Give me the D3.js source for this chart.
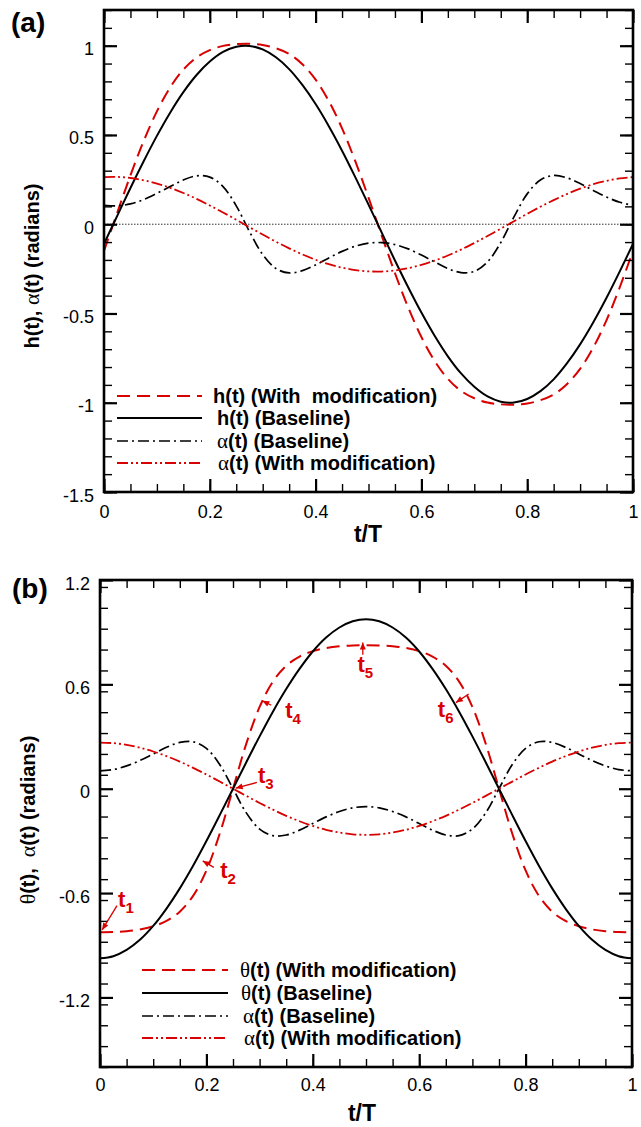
<!DOCTYPE html>
<html><head><meta charset="utf-8">
<script src="https://cdn.jsdelivr.net/npm/d3@7"></script>
<style>
body{margin:0;background:#fff}
svg{display:block}
text{font-family:"Liberation Sans",Arial,sans-serif;white-space:pre}
</style>
</head><body>
<svg id="c" width="641" height="1127"></svg>
<script>
// ---------- data (t/T grid and series values) ----------
const tGrid = [0,0.025,0.05,0.075,0.1,0.125,0.15,0.175,0.2,0.225,0.25,0.275,0.3,0.325,0.35,0.375,0.4,0.425,0.45,0.475,0.5,
  0.525,0.55,0.575,0.6,0.625,0.65,0.675,0.7,0.725,0.75,0.775,0.8,0.825,0.85,0.875,0.9,0.925,0.95,0.975,1];

// panel (a)
const hModA = [-0.149,0.064,0.274,0.466,0.632,0.766,0.866,0.934,0.975,0.999,1.009,1.011,1.004,0.986,0.954,0.896,0.810,0.690,0.537,0.353,0.149,
  -0.064,-0.274,-0.466,-0.632,-0.766,-0.866,-0.934,-0.975,-0.999,-1.009,-1.011,-1.004,-0.986,-0.954,-0.896,-0.810,-0.690,-0.537,-0.353,-0.149];
const hBaseA = [-0.110,0.047,0.203,0.353,0.495,0.625,0.740,0.836,0.911,0.965,0.994,0.999,0.979,0.935,0.869,0.780,0.673,0.549,0.412,0.264,0.110,
  -0.047,-0.203,-0.353,-0.495,-0.625,-0.740,-0.836,-0.911,-0.965,-0.994,-0.999,-0.979,-0.935,-0.869,-0.780,-0.673,-0.549,-0.412,-0.264,-0.110];
const alphaBaseA = [0.106,0.103,0.114,0.138,0.173,0.211,0.248,0.271,0.264,0.211,0.103,-0.041,-0.170,-0.248,-0.273,-0.260,-0.228,-0.189,-0.152,-0.123,-0.106,
  -0.103,-0.114,-0.138,-0.173,-0.211,-0.248,-0.271,-0.264,-0.211,-0.103,0.041,0.170,0.248,0.273,0.260,0.228,0.189,0.152,0.123,0.106];
const alphaModA = [0.264,0.265,0.259,0.246,0.228,0.204,0.175,0.142,0.105,0.066,0.025,-0.017,-0.058,-0.098,-0.135,-0.169,-0.199,-0.224,-0.243,-0.257,-0.264,
  -0.265,-0.259,-0.246,-0.228,-0.204,-0.175,-0.142,-0.105,-0.066,-0.025,0.017,0.058,0.098,0.135,0.169,0.199,0.224,0.243,0.257,0.264];

// panel (b)
const thetaModB = [-0.825,-0.824,-0.819,-0.809,-0.791,-0.760,-0.707,-0.616,-0.470,-0.259,0,0.259,0.470,0.616,0.707,0.760,0.791,0.809,0.819,0.824,0.825,
  0.824,0.819,0.809,0.791,0.760,0.707,0.616,0.470,0.259,0,-0.259,-0.470,-0.616,-0.707,-0.760,-0.791,-0.809,-0.819,-0.824,-0.825];
const thetaBaseB = [-0.975,-0.963,-0.927,-0.869,-0.789,-0.689,-0.573,-0.443,-0.301,-0.152,0,0.152,0.301,0.443,0.573,0.689,0.789,0.869,0.927,0.963,0.975,
  0.963,0.927,0.869,0.789,0.689,0.573,0.443,0.301,0.152,0,-0.152,-0.301,-0.443,-0.573,-0.689,-0.789,-0.869,-0.927,-0.963,-0.975];
const alphaBaseB = [0.103,0.110,0.131,0.162,0.200,0.238,0.266,0.270,0.232,0.139,0,-0.139,-0.232,-0.270,-0.266,-0.238,-0.200,-0.162,-0.131,-0.110,-0.103,
  -0.110,-0.131,-0.162,-0.200,-0.238,-0.266,-0.270,-0.232,-0.139,0,0.139,0.232,0.270,0.266,0.238,0.200,0.162,0.131,0.110,0.103];
const alphaModB = [0.265,0.262,0.252,0.236,0.214,0.187,0.156,0.120,0.082,0.041,0,-0.041,-0.082,-0.120,-0.156,-0.187,-0.214,-0.236,-0.252,-0.262,-0.265,
  -0.262,-0.252,-0.236,-0.214,-0.187,-0.156,-0.120,-0.082,-0.041,0,0.041,0.082,0.120,0.156,0.187,0.214,0.236,0.252,0.262,0.265];

// tick values
const xMajor = [0,0.2,0.4,0.6,0.8,1];
const xTickLabels = ["0","0.2","0.4","0.6","0.8","1"];
const yMajorA = [-1.5,-1,-0.5,0,0.5,1];
const yTickLabelsA = ["-1.5","-1","-0.5","0","0.5","1"];
const yMajorB = [-1.2,-0.6,0,0.6,1.2];
const yTickLabelsB = ["-1.2","-0.6","0","0.6","1.2"];

// legend labels
const legendA = [
  {pre:"h", mid:"(t) (With  modification)", greek:false},
  {pre:"h", mid:"(t) (Baseline)", greek:false},
  {pre:"α", mid:"(t) (Baseline)", greek:true},
  {pre:"α", mid:"(t) (With modification)", greek:true}
];
const legendB = [
  {pre:"θ", mid:"(t) (With modification)", greek:true},
  {pre:"θ", mid:"(t) (Baseline)", greek:true},
  {pre:"α", mid:"(t) (Baseline)", greek:true},
  {pre:"α", mid:"(t) (With modification)", greek:true}
];

// annotations of panel (b): arrow tail/tip and label in data coordinates
const annotB = [
  {sub:"1", lt:0.034, lv:-0.680, t0:0.032, v0:-0.672, t1:0.004, v1:-0.812},
  {sub:"2", lt:0.226, lv:-0.513, t0:0.214, v0:-0.452, t1:0.193, v1:-0.415},
  {sub:"3", lt:0.297, lv:0.030, t0:0.295, v0:0.036, t1:0.255, v1:0.003},
  {sub:"4", lt:0.348, lv:0.407, t0:0.322, v0:0.480, t1:0.305, v1:0.506},
  {sub:"5", lt:0.484, lv:0.672, t0:0.494, v0:0.770, t1:0.494, v1:0.840},
  {sub:"6", lt:0.635, lv:0.411, t0:0.693, v0:0.545, t1:0.669, v1:0.495}
];

// ---------- drawing ----------
const RED = "#d90000";
const svg = d3.select("#c");
const FONT = '"Liberation Sans", Arial, sans-serif';
const GREEK = '"Liberation Serif", "DejaVu Serif", serif';

const styles = {
  dashRed: {color: RED, dash: "13,7", w: 2},
  solid:   {color: "#000", dash: null, w: 2},
  dashDot: {color: "#000", dash: "11,4,2,4", w: 1.7},
  dashDotDot: {color: RED, dash: "11,3,2,3,2,3", w: 1.8}
};

function panel(cfg) {
  const x = d3.scaleLinear().domain([0,1]).range([cfg.left, cfg.right]);
  const y = d3.scaleLinear().domain(cfg.yDomain).range([cfg.bottom, cfg.top]);
  const g = svg.append("g");

  const clip = "clip" + cfg.id;
  svg.append("clipPath").attr("id", clip).append("rect")
    .attr("x", cfg.left).attr("y", cfg.top)
    .attr("width", cfg.right - cfg.left).attr("height", cfg.bottom - cfg.top);

  const plot = g.append("g").attr("clip-path", `url(#${clip})`);
  if (cfg.zeroLine) {
    plot.append("line").attr("x1", x(0)).attr("x2", x(1)).attr("y1", y(0)).attr("y2", y(0))
      .attr("stroke", "#333").attr("stroke-width", 1).attr("stroke-dasharray", "1.5,1.5");
  }
  const line = d3.line().x((d,i) => x(tGrid[i])).y(d => y(d)).curve(d3.curveCatmullRom.alpha(0.5));
  cfg.series.forEach(s => {
    const st = styles[s.style];
    plot.append("path").attr("d", line(s.values)).attr("fill", "none")
      .attr("stroke", st.color).attr("stroke-width", st.w)
      .attr("stroke-dasharray", st.dash);
  });

  // axes: minor + major ticks, all inward
  const ax = (axisFn, scale, ticks, size, labels, pad) => {
    const a = axisFn(scale).tickValues(ticks).tickSizeInner(-size).tickSizeOuter(0).tickPadding(pad);
    a.tickFormat(labels ? ((d,i) => labels[i]) : () => "");
    return a;
  };
  const xMinor = d3.range(0, 1.0001, 0.05);
  const yMinor = d3.range(cfg.yDomain[0], cfg.yDomain[1] + 1e-6, cfg.yMinorStep);

  const drawAxis = (a, tx, ty, w) => {
    const gg = g.append("g").attr("transform", `translate(${tx},${ty})`).call(a);
    gg.select(".domain").remove();
    gg.selectAll(".tick line").attr("stroke", "#000").attr("stroke-width", w);
    gg.selectAll("text").attr("font-family", FONT).attr("font-size", 18).attr("fill", "#000");
    return gg;
  };
  drawAxis(ax(d3.axisBottom, x, xMinor, 8, null, 0), 0, cfg.bottom, 1.4);
  drawAxis(ax(d3.axisTop, x, xMinor, 8, null, 0), 0, cfg.top, 1.4);
  drawAxis(ax(d3.axisLeft, y, yMinor, 8, null, 0), cfg.left, 0, 1.4);
  drawAxis(ax(d3.axisRight, y, yMinor, 8, null, 0), cfg.right, 0, 1.4);
  drawAxis(ax(d3.axisBottom, x, xMajor, 13, xTickLabels, cfg.xPad), 0, cfg.bottom, 2.2);
  drawAxis(ax(d3.axisTop, x, xMajor, 13, null, 0), 0, cfg.top, 2.2);
  const yl = drawAxis(ax(d3.axisLeft, y, cfg.yMajor, 13, cfg.yLabels, 10), cfg.left, 0, 2.2);
  yl.selectAll("text").attr("dy", "0.5em");
  drawAxis(ax(d3.axisRight, y, cfg.yMajor, 13, null, 0), cfg.right, 0, 2.2);

  g.append("rect").attr("x", cfg.left).attr("y", cfg.top)
    .attr("width", cfg.right - cfg.left).attr("height", cfg.bottom - cfg.top)
    .attr("fill", "none").attr("stroke", "#000").attr("stroke-width", 2.6);

  // panel tag
  g.append("text").attr("x", cfg.tagX).attr("y", cfg.tagY).attr("font-size", 28)
    .attr("font-weight", "bold").attr("font-family", FONT).text(cfg.tag);

  // x title
  g.append("text").attr("x", cfg.xTitleX).attr("y", cfg.xTitleY).attr("text-anchor", "middle")
    .attr("font-size", 23).attr("font-weight", "bold").attr("font-family", FONT).text("t/T");

  // y title
  const yt = g.append("text").attr("transform", `translate(${cfg.yTitleX},${cfg.yTitleY}) rotate(-90)`)
    .attr("text-anchor", "middle").attr("font-size", 20).attr("font-weight", "bold").attr("font-family", FONT);
  cfg.yTitle.forEach(p => {
    const ts = yt.append("tspan").text(p.s);
    if (p.greek) ts.attr("font-family", GREEK).attr("font-weight", "normal").attr("font-size", 22);
  });

  // legend
  cfg.legend.forEach((L, i) => {
    const st = styles[cfg.series[i].style];
    const ly = cfg.legY[i];
    g.append("line").attr("x1", cfg.legX0).attr("x2", cfg.legX1).attr("y1", ly).attr("y2", ly)
      .attr("stroke", st.color).attr("stroke-width", st.w).attr("stroke-dasharray", st.dash);
    const tx = g.append("text").attr("x", cfg.legTX[i]).attr("y", ly + 7)
      .attr("font-size", 20).attr("font-weight", "bold").attr("font-family", FONT);
    const p = tx.append("tspan").text(L.pre);
    if (L.greek) p.attr("font-family", GREEK).attr("font-weight", "normal").attr("font-size", 21);
    tx.append("tspan").text(L.mid);
  });
  return {x, y, g};
}

const A = panel({
  id: "a", left: 104, right: 633, top: 10, bottom: 492, yDomain: [-1.5, 1.2], yMinorStep: 0.1,
  yMajor: yMajorA, yLabels: yTickLabelsA, xPad: 13, zeroLine: true,
  series: [
    {values: hModA, style: "dashRed"},
    {values: hBaseA, style: "solid"},
    {values: alphaBaseA, style: "dashDot"},
    {values: alphaModA, style: "dashDotDot"}
  ],
  tag: "(a)", tagX: 11, tagY: 32,
  xTitleX: 368, xTitleY: 542,
  yTitleX: 39, yTitleY: 266,
  yTitle: [{s:"h(t), "}, {s:"α", greek:true}, {s:"(t) (radians)"}],
  legend: legendA, legX0: 117, legX1: 202, legY: [396, 418, 441, 463], legTX: [213, 217, 217, 218]
});

const B = panel({
  id: "b", left: 100, right: 632, top: 580, bottom: 1067, yDomain: [-1.6, 1.2], yMinorStep: 0.12,
  yMajor: yMajorB, yLabels: yTickLabelsB, xPad: 11, zeroLine: false,
  series: [
    {values: thetaModB, style: "dashRed"},
    {values: thetaBaseB, style: "solid"},
    {values: alphaBaseB, style: "dashDot"},
    {values: alphaModB, style: "dashDotDot"}
  ],
  tag: "(b)", tagX: 12, tagY: 598,
  xTitleX: 362, xTitleY: 1121,
  yTitleX: 35, yTitleY: 820,
  yTitle: [{s:"θ", greek:true}, {s:"(t),  "}, {s:"α", greek:true}, {s:"(t) (radians)"}],
  legend: legendB, legX0: 142, legX1: 228, legY: [970, 993, 1016, 1038], legTX: [240, 241, 243, 244]
});

// annotations on panel (b)
annotB.forEach(a => {
  const x0 = B.x(a.t0), y0 = B.y(a.v0), x1 = B.x(a.t1), y1 = B.y(a.v1);
  B.g.append("line").attr("x1", x0).attr("y1", y0).attr("x2", x1).attr("y2", y1)
    .attr("stroke", RED).attr("stroke-width", 1.3);
  const ang = Math.atan2(y1 - y0, x1 - x0);
  const L = 7, W = 3;
  const bx = x1 - L * Math.cos(ang), by = y1 - L * Math.sin(ang);
  const pts = [[x1, y1], [bx + W * Math.sin(ang), by - W * Math.cos(ang)], [bx - W * Math.sin(ang), by + W * Math.cos(ang)]];
  B.g.append("path").attr("d", d3.line()(pts) + "Z").attr("fill", RED);
  const t = B.g.append("text").attr("x", B.x(a.lt)).attr("y", B.y(a.lv)).attr("fill", RED)
    .attr("font-size", 22).attr("font-weight", "bold").attr("font-family", FONT);
  t.append("tspan").text("t");
  t.append("tspan").attr("font-size", 15).attr("dy", 6).text(a.sub);
});
</script>
</body></html>
